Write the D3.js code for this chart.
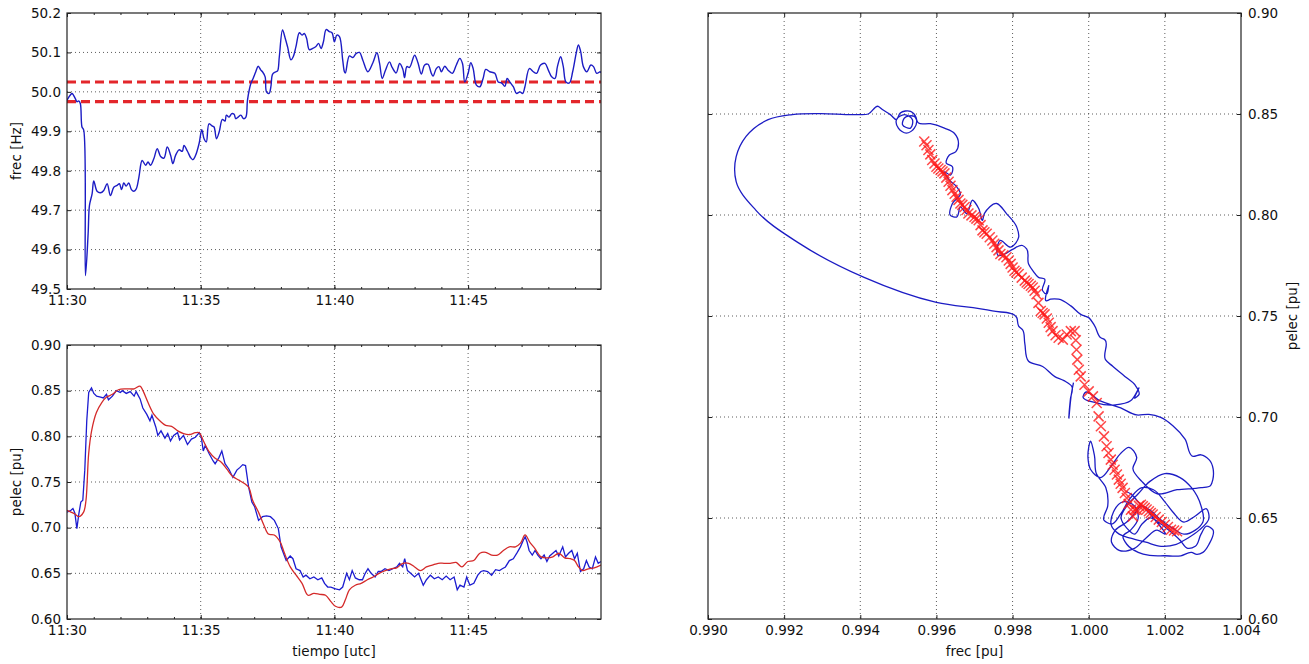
<!DOCTYPE html>
<html><head><meta charset="utf-8">
<script src="https://cdnjs.cloudflare.com/ajax/libs/d3/7.8.5/d3.min.js"></script>
<style>body{margin:0;background:#fff}svg text{font-family:"DejaVu Sans",sans-serif;fill:#111}</style>
</head><body><svg id="c" width="1309" height="664"></svg>
<script>
// ---- time series: minutes after 11:30 UTC ----
const freqTime=[0,.125,.19,.31,.375,.44,.5,.56,.625,.69,.79,.84,.94,1.0,1.125,1.25,1.375,1.5,1.625,1.75,1.875,1.96,2.04,2.125,2.21,2.31,2.41,2.5,2.59,2.69,2.81,2.94,3.03,3.125,3.25,3.375,3.5,3.625,3.75,3.875,3.96,4.06,4.19,4.31,4.375,4.5,4.625,4.71,4.81,4.94,5.04,5.125,5.21,5.31,5.44,5.5,5.59,5.69,5.81,5.91,5.96,6.06,6.16,6.25,6.31,6.4,6.5,6.6,6.69,6.75,6.875,6.96,7.06,7.15,7.25,7.31,7.41,7.46,7.56,7.625,7.69,7.81,7.875,7.94,8.06,8.16,8.25,8.375,8.46,8.56,8.69,8.79,8.875,8.96,9.06,9.19,9.31,9.41,9.5,9.59,9.69,9.81,9.91,10.0,10.09,10.19,10.31,10.375,10.41,10.56,10.69,10.81,10.94,11.06,11.25,11.44,11.59,11.69,11.79,11.91,12.06,12.16,12.31,12.44,12.56,12.625,12.71,12.81,13.0,13.125,13.25,13.375,13.5,13.625,13.69,13.81,13.91,14.0,14.125,14.25,14.41,14.56,14.69,14.79,14.875,15.0,15.1,15.19,15.31,15.44,15.56,15.66,15.81,16.0,16.125,16.25,16.375,16.46,16.56,16.69,16.81,16.94,17.04,17.125,17.29,17.44,17.56,17.71,17.875,18.0,18.125,18.25,18.34,18.46,18.56,18.66,18.79,18.91,19.04,19.125,19.21,19.31,19.44,19.59,19.69,19.81,19.94,19.97];
const freqHz=[49.979,49.992,49.996,49.983,49.975,49.977,49.970,49.911,49.903,49.534,49.640,49.712,49.742,49.774,49.748,49.744,49.750,49.767,49.737,49.758,49.763,49.767,49.752,49.769,49.761,49.769,49.752,49.748,49.754,49.784,49.826,49.814,49.822,49.814,49.831,49.856,49.836,49.832,49.860,49.839,49.818,49.839,49.853,49.849,49.864,49.850,49.833,49.828,49.839,49.869,49.904,49.881,49.873,49.919,49.913,49.911,49.881,49.898,49.930,49.926,49.941,49.936,49.945,49.943,49.932,49.936,49.941,49.932,49.936,49.979,50.021,50.034,50.051,50.065,50.055,50.051,50.038,50.000,49.996,50.013,50.045,50.051,50.053,50.089,50.157,50.136,50.114,50.081,50.089,50.114,50.150,50.144,50.148,50.136,50.107,50.110,50.115,50.123,50.110,50.127,50.158,50.153,50.150,50.127,50.144,50.140,50.081,50.051,50.048,50.091,50.087,50.097,50.100,50.081,50.051,50.074,50.099,50.072,50.034,50.055,50.076,50.062,50.048,50.072,50.057,50.036,50.064,50.062,50.093,50.074,50.045,50.068,50.070,50.047,50.040,50.059,50.064,50.051,50.065,50.055,50.047,50.068,50.085,50.072,50.025,50.047,50.074,50.059,50.017,50.013,50.034,50.057,50.051,50.047,50.025,50.023,50.014,50.034,50.025,50.013,49.996,50.000,49.996,50.013,50.059,50.051,50.047,50.068,50.072,50.055,50.038,50.034,50.064,50.089,50.064,50.025,50.023,50.051,50.097,50.119,50.102,50.064,50.051,50.068,50.064,50.047,50.051,50.048];
const freqBand=[50.025,49.975];

const pelecTime=[0,.148,.222,.295,.369,.443,.517,.591,.665,.739,.812,.916,1.004,1.108,1.256,1.359,1.477,1.551,1.699,1.846,1.994,2.068,2.216,2.363,2.511,2.585,2.733,2.836,2.984,3.102,3.176,3.323,3.397,3.516,3.663,3.767,3.870,3.988,4.136,4.210,4.357,4.505,4.653,4.801,4.948,5.022,5.096,5.170,5.318,5.465,5.539,5.687,5.790,5.908,6.056,6.204,6.352,6.470,6.573,6.677,6.795,6.913,7.016,7.164,7.312,7.459,7.607,7.755,7.903,8.006,8.095,8.198,8.346,8.449,8.567,8.715,8.833,8.936,9.084,9.232,9.380,9.527,9.631,9.749,9.867,10.044,10.192,10.310,10.458,10.561,10.665,10.783,10.930,11.049,11.152,11.256,11.374,11.521,11.640,11.743,11.891,12.038,12.186,12.334,12.437,12.555,12.629,12.733,12.851,12.999,13.146,13.323,13.442,13.589,13.737,13.885,14.033,14.180,14.328,14.476,14.594,14.697,14.845,14.948,15.066,15.214,15.362,15.480,15.583,15.731,15.879,16.027,16.174,16.278,16.396,16.544,16.691,16.839,16.957,17.061,17.135,17.208,17.282,17.400,17.504,17.607,17.725,17.843,17.947,18.050,18.168,18.287,18.390,18.538,18.641,18.759,18.877,18.981,19.084,19.202,19.321,19.424,19.527,19.645,19.764,19.867,19.970];
const pelecMeasured=[0.717,0.719,0.721,0.716,0.699,0.715,0.728,0.730,0.763,0.817,0.848,0.853,0.847,0.844,0.843,0.842,0.846,0.840,0.844,0.850,0.848,0.850,0.847,0.849,0.844,0.849,0.841,0.831,0.824,0.817,0.823,0.810,0.801,0.806,0.798,0.803,0.795,0.801,0.804,0.796,0.801,0.791,0.797,0.799,0.804,0.799,0.784,0.790,0.781,0.773,0.770,0.777,0.784,0.770,0.764,0.755,0.763,0.766,0.769,0.768,0.744,0.728,0.723,0.708,0.712,0.713,0.712,0.708,0.699,0.679,0.672,0.664,0.669,0.666,0.655,0.653,0.646,0.648,0.644,0.646,0.643,0.645,0.639,0.635,0.635,0.633,0.632,0.635,0.650,0.643,0.653,0.645,0.643,0.643,0.650,0.655,0.650,0.646,0.652,0.652,0.655,0.653,0.655,0.657,0.661,0.657,0.666,0.653,0.650,0.646,0.650,0.637,0.643,0.648,0.644,0.646,0.643,0.647,0.643,0.646,0.632,0.637,0.635,0.646,0.637,0.639,0.648,0.652,0.653,0.652,0.648,0.654,0.653,0.655,0.657,0.664,0.666,0.673,0.679,0.686,0.690,0.684,0.675,0.670,0.675,0.670,0.666,0.670,0.663,0.669,0.672,0.675,0.669,0.679,0.668,0.672,0.675,0.666,0.672,0.652,0.655,0.664,0.657,0.655,0.668,0.661,0.663];

const refTime=[0,.148,.295,.443,.62,.71,.81,.92,1.1,1.3,1.48,1.7,1.92,2.22,2.51,2.73,2.84,3.03,3.25,3.47,3.69,3.91,4.14,4.36,4.58,4.8,4.95,5.1,5.32,5.54,5.76,5.98,6.2,6.43,6.65,6.8,6.94,7.16,7.36,7.53,7.75,7.98,8.12,8.35,8.57,8.79,9.01,9.23,9.45,9.67,9.87,10.04,10.27,10.41,10.56,10.78,11.0,11.23,11.45,11.67,11.9,12.11,12.33,12.56,12.78,13.0,13.22,13.44,13.66,13.88,14.1,14.33,14.55,14.77,14.99,15.21,15.44,15.66,15.88,16.1,16.32,16.54,16.77,16.96,17.13,17.31,17.5,17.73,17.95,18.17,18.39,18.61,18.83,18.98,19.13,19.28,19.5,19.72,19.97];
const pelecReference=[0.719,0.717,0.715,0.712,0.717,0.730,0.781,0.806,0.826,0.837,0.843,0.846,0.851,0.852,0.852,0.855,0.850,0.837,0.824,0.817,0.812,0.811,0.806,0.803,0.802,0.804,0.804,0.795,0.783,0.776,0.772,0.764,0.756,0.752,0.748,0.744,0.730,0.717,0.703,0.693,0.692,0.684,0.673,0.657,0.648,0.639,0.626,0.628,0.627,0.626,0.619,0.614,0.613,0.621,0.632,0.637,0.639,0.643,0.646,0.650,0.653,0.655,0.656,0.661,0.661,0.657,0.653,0.657,0.659,0.661,0.661,0.661,0.662,0.657,0.663,0.664,0.672,0.673,0.670,0.670,0.675,0.679,0.679,0.683,0.692,0.684,0.677,0.668,0.667,0.668,0.672,0.667,0.666,0.664,0.657,0.653,0.655,0.656,0.659];

// ---- phase plane (frec pu vs pelec pu) ----
const phaseFrec=[0.99960,0.99955,0.99948,0.99952,0.99956,0.99935,0.99911,0.99879,0.99842,0.99832,0.99826,0.99816,0.99811,0.99747,0.99600,0.99410,0.99242,0.99126,0.99074,0.99074,0.99100,0.99158,0.99221,0.99295,0.99390,0.99421,0.99447,0.99458,0.99479,0.99495,0.99505,0.99532,0.99547,0.99542,0.99521,0.99500,0.99495,0.99516,0.99537,0.99532,0.99511,0.99516,0.99542,0.99553,0.99584,0.99621,0.99647,0.99658,0.99651,0.99634,0.99626,0.99642,0.99637,0.99621,0.99634,0.99653,0.99663,0.99642,0.99637,0.99653,0.99663,0.99679,0.99695,0.99711,0.99721,0.99726,0.99758,0.99784,0.99811,0.99816,0.99795,0.99768,0.99763,0.99779,0.99800,0.99826,0.99837,0.99842,0.99855,0.99868,0.99884,0.99879,0.99889,0.99895,0.99889,0.99900,0.99921,0.99953,0.99979,1.00000,1.00016,1.00032,1.00042,1.00044,1.00063,1.00095,1.00121,1.00132,1.00121,1.00132,1.00110,1.00070,1.00020,0.99985,0.99990,1.00030,1.00084,1.00126,1.00158,1.00189,1.00221,1.00253,1.00274,1.00295,1.00316,1.00326,1.00320,1.00295,1.00232,1.00180,1.00140,1.00116,1.00126,1.00105,1.00084,1.00060,1.00030,1.00005,0.99998,1.00005,1.00015,1.00020,1.00045,1.00050,1.00040,1.00060,1.00084,1.00110,1.00140,1.00170,1.00200,1.00221,1.00250,1.00280,1.00310,1.00316,1.00290,1.00260,1.00230,1.00190,1.00150,1.00110,1.00080,1.00060,1.00065,1.00090,1.00120,1.00130,1.00110,1.00090,1.00100,1.00130,1.00160,1.00200,1.00242,1.00270,1.00284,1.00300,1.00316,1.00326,1.00310,1.00295,1.00280,1.00260,1.00240,1.00210,1.00190,1.00160,1.00140,1.00120,1.00100,1.00085,1.00100,1.00130,1.00160,1.00200,1.00240,1.00270,1.00295,1.00300,1.00280,1.00250,1.00220,1.00190,1.00160,1.00140,1.00120,1.00100,1.00070,1.00060,1.00080,1.00120,1.00150,1.00180,1.00200,1.00170,1.00130,1.00110,1.00100];
const phasePelec=[0.717,0.712,0.6995,0.709,0.715,0.718,0.720,0.725,0.7276,0.7366,0.7432,0.745,0.7492,0.7525,0.7567,0.7691,0.7857,0.8023,0.8165,0.8289,0.8389,0.8472,0.8497,0.8502,0.8497,0.8500,0.8538,0.8522,0.8497,0.8472,0.8505,0.8513,0.848,0.843,0.8405,0.843,0.8472,0.8497,0.8472,0.843,0.8447,0.848,0.8488,0.8455,0.8452,0.843,0.8405,0.8355,0.8314,0.8297,0.8256,0.8239,0.8198,0.8214,0.8173,0.814,0.8106,0.8057,0.7998,0.799,0.804,0.8007,0.8073,0.8032,0.7974,0.8007,0.8057,0.8007,0.794,0.789,0.7841,0.7874,0.7799,0.7807,0.7830,0.7849,0.7832,0.7758,0.7720,0.7691,0.7683,0.7625,0.7608,0.765,0.7575,0.7583,0.7583,0.755,0.7508,0.7492,0.745,0.7392,0.7383,0.7284,0.7251,0.7201,0.716,0.7111,0.7094,0.7144,0.7080,0.7060,0.7070,0.7100,0.7120,0.7080,0.7045,0.7010,0.7013,0.6998,0.6957,0.689,0.6805,0.6813,0.6789,0.6690,0.6660,0.6650,0.6640,0.6620,0.6680,0.6745,0.6800,0.6850,0.6820,0.6760,0.6700,0.6740,0.6800,0.6880,0.6810,0.6720,0.6650,0.6560,0.6490,0.6470,0.6520,0.6600,0.6650,0.6640,0.6580,0.6530,0.6480,0.6510,0.6545,0.6500,0.6440,0.6400,0.6370,0.6360,0.6380,0.6400,0.6420,0.6460,0.6530,0.6580,0.6560,0.6500,0.6440,0.6410,0.6370,0.6330,0.6315,0.6313,0.6313,0.6330,0.6320,0.6330,0.6370,0.6442,0.6460,0.6420,0.6360,0.6350,0.6390,0.6440,0.6470,0.6500,0.6470,0.6420,0.6450,0.6500,0.6560,0.6620,0.6680,0.6720,0.6700,0.6650,0.6560,0.6480,0.6440,0.6420,0.6450,0.6490,0.6540,0.6560,0.6520,0.6480,0.6440,0.6380,0.6340,0.6350,0.6400,0.6440,0.6420,0.6500,0.6580,0.6620,0.6630];
const markerFrec=[0.99568,0.99574,0.99579,0.99584,0.99589,0.99595,0.99600,0.99605,0.99611,0.99616,0.99621,0.99626,0.99632,0.99637,0.99642,0.99648,0.99653,0.99658,0.99663,0.99668,0.99674,0.99679,0.99684,0.99692,0.99700,0.99705,0.99711,0.99716,0.99721,0.99726,0.99732,0.99740,0.99747,0.99752,0.99758,0.99763,0.99768,0.99776,0.99784,0.99790,0.99795,0.99800,0.99805,0.99810,0.99816,0.99824,0.99832,0.99837,0.99842,0.99848,0.99853,0.99858,0.99863,0.99868,0.99874,0.99879,0.99884,0.99890,0.99895,0.99900,0.99905,0.99913,0.99921,0.99932,0.99942,0.99953,0.99963,0.99966,0.99968,0.99970,0.99974,0.99979,0.99989,1.00000,1.00011,1.00021,1.00026,1.00032,1.00040,1.00047,1.00052,1.00058,1.00063,1.00068,1.00074,1.00079,1.00084,1.00089,1.00095,1.00100,1.00105,1.00111,1.00116,1.00121,1.00126,1.00132,1.00137,1.00142,1.00147,1.00152,1.00158,1.00163,1.00168,1.00176,1.00184,1.00192,1.00200,1.00208,1.00216,1.00224,1.00232];
const markerPelec=[0.8364,0.8345,0.8322,0.8300,0.8272,0.8255,0.8239,0.8230,0.8223,0.8215,0.8206,0.8185,0.8165,0.8145,0.8123,0.8105,0.8090,0.8075,0.8057,0.8050,0.8040,0.8025,0.8007,0.7998,0.7990,0.7982,0.7974,0.7950,0.7924,0.7915,0.7907,0.7890,0.7874,0.7858,0.7841,0.7825,0.7807,0.7800,0.7791,0.7775,0.7758,0.7740,0.7724,0.7716,0.7708,0.7690,0.7675,0.7666,0.7658,0.7650,0.7641,0.7625,0.7608,0.7565,0.7525,0.7515,0.7508,0.7488,0.7467,0.7445,0.7425,0.7405,0.7392,0.7383,0.7408,0.7425,0.7425,0.7380,0.7333,0.7284,0.7234,0.7201,0.7160,0.7127,0.7102,0.7069,0.7003,0.6954,0.6904,0.6855,0.6822,0.6789,0.6764,0.6739,0.6715,0.6690,0.6670,0.6649,0.6624,0.6599,0.6570,0.6541,0.6508,0.6541,0.6541,0.6560,0.6566,0.6558,0.6550,0.6542,0.6533,0.6525,0.6517,0.6505,0.6492,0.6480,0.6467,0.6455,0.6442,0.6438,0.6434];

// ---- axis ticks ----
const freqTicks=[49.5,49.6,49.7,49.8,49.9,50.0,50.1,50.2];
const pelecTicks=[0.60,0.65,0.70,0.75,0.80,0.85,0.90];
const frecPuTicks=[0.990,0.992,0.994,0.996,0.998,1.000,1.002,1.004];
const timeLabels=["11:30","11:35","11:40","11:45"];

const svg=d3.select("#c");
const T0=Date.UTC(2000,0,1,11,30);
const toDate=m=>new Date(T0+m*60000);
const GRID="#333";
const FS="13.5px";

const A={l:67,r:601,t:13,b:289};
const B={l:67,r:601,t:345,b:619};
const C={l:708,r:1241,t:13,b:619};

const xTime=d3.scaleUtc().domain([toDate(0),toDate(19.97)]).range([A.l,A.r]);
const majorTimes=d3.utcMinute.every(5).range(toDate(0),toDate(19.98));
const minorTimes=d3.utcMinute.every(1).range(toDate(0),toDate(19.98));

function grid(g,P,xs,xv,ys,yv){
  g.selectAll(".gx").data(xv).join("line").attr("x1",d=>xs(d)).attr("x2",d=>xs(d)).attr("y1",P.t).attr("y2",P.b)
   .attr("stroke",GRID).attr("stroke-width",0.8).attr("stroke-dasharray","1,3");
  g.selectAll(".gy").data(yv).join("line").attr("y1",d=>ys(d)).attr("y2",d=>ys(d)).attr("x1",P.l).attr("x2",P.r)
   .attr("stroke",GRID).attr("stroke-width",0.8).attr("stroke-dasharray","1,3");
}
function frame(P){
  svg.append("rect").attr("x",P.l).attr("y",P.t).attr("width",P.r-P.l).attr("height",P.b-P.t)
    .attr("fill","none").attr("stroke","#222").attr("stroke-width",1.2);
}
function axes(P,xs,ys,xTicks,xFmt,yTicks,yFmt,yRightLabels,minor){
  const ax=(gen,tr)=>{const g=svg.append("g").attr("transform",tr).call(gen);g.select(".domain").remove();
    g.selectAll("text").style("font-size",FS).style("font-family","DejaVu Sans, sans-serif").attr("fill","#111");
    g.selectAll("line").attr("stroke","#222");return g;};
  ax(d3.axisBottom(xs).tickValues(xTicks).tickFormat(xFmt).tickSizeInner(-4).tickSizeOuter(0).tickPadding(6),`translate(0,${P.b})`);
  ax(d3.axisTop(xs).tickValues(xTicks).tickFormat("").tickSizeInner(-4).tickSizeOuter(0),`translate(0,${P.t})`);
  if(minor){
    ax(d3.axisBottom(xs).tickValues(minor).tickFormat("").tickSizeInner(-2).tickSizeOuter(0),`translate(0,${P.b})`);
    ax(d3.axisTop(xs).tickValues(minor).tickFormat("").tickSizeInner(-2).tickSizeOuter(0),`translate(0,${P.t})`);
  }
  ax(d3.axisLeft(ys).tickValues(yTicks).tickFormat(yRightLabels?"":yFmt).tickSizeInner(-4).tickSizeOuter(0).tickPadding(6),`translate(${P.l},0)`);
  ax(d3.axisRight(ys).tickValues(yTicks).tickFormat(yRightLabels?yFmt:"").tickSizeInner(-4).tickSizeOuter(0).tickPadding(7),`translate(${P.r},0)`);
}

// ---- Panel A: frequency ----
const yA=d3.scaleLinear().domain([49.5,50.2]).range([A.b,A.t]);
grid(svg.append("g"),A,xTime,majorTimes.slice(1),yA,freqTicks.slice(1,-1));
svg.append("clipPath").attr("id","cA").append("rect").attr("x",A.l).attr("y",A.t).attr("width",A.r-A.l).attr("height",A.b-A.t);
const gA=svg.append("g").attr("clip-path","url(#cA)");
gA.selectAll(".band").data(freqBand).join("line").attr("x1",A.l).attr("x2",A.r).attr("y1",d=>yA(d)).attr("y2",d=>yA(d))
  .attr("stroke","#e3262b").attr("stroke-width",3.2).attr("stroke-dasharray","9,5");
gA.append("path").datum(freqTime.map((t,i)=>[t,freqHz[i]]))
  .attr("d",d3.line().x(d=>xTime(toDate(d[0]))).y(d=>yA(d[1])).curve(d3.curveCatmullRom))
  .attr("fill","none").attr("stroke","#1c1cc4").attr("stroke-width",1.4);
frame(A);
axes(A,xTime,yA,majorTimes,(d,i)=>timeLabels[i],freqTicks,d3.format(".1f"),false,minorTimes);
svg.append("text").attr("transform",`translate(21,${(A.t+A.b)/2}) rotate(-90)`).attr("text-anchor","middle").style("font-size",FS).text("frec [Hz]");

// ---- Panel B: electrical power ----
const xTimeB=xTime.copy().range([B.l,B.r]);
const yB=d3.scaleLinear().domain([0.60,0.90]).range([B.b,B.t]);
grid(svg.append("g"),B,xTimeB,majorTimes.slice(1),yB,pelecTicks.slice(1,-1));
svg.append("clipPath").attr("id","cB").append("rect").attr("x",B.l).attr("y",B.t).attr("width",B.r-B.l).attr("height",B.b-B.t);
const gB=svg.append("g").attr("clip-path","url(#cB)");
const lineB=d3.line().x(d=>xTimeB(toDate(d[0]))).y(d=>yB(d[1]));
gB.append("path").datum(pelecTime.map((t,i)=>[t,pelecMeasured[i]])).attr("d",lineB)
  .attr("fill","none").attr("stroke","#1c1cd0").attr("stroke-width",1.3);
gB.append("path").datum(refTime.map((t,i)=>[t,pelecReference[i]])).attr("d",lineB.curve(d3.curveCatmullRom))
  .attr("fill","none").attr("stroke","#d42a2a").attr("stroke-width",1.3);
frame(B);
axes(B,xTimeB,yB,majorTimes,(d,i)=>timeLabels[i],pelecTicks,d3.format(".2f"),false,minorTimes);
svg.append("text").attr("transform",`translate(21,${(B.t+B.b)/2}) rotate(-90)`).attr("text-anchor","middle").style("font-size",FS).text("pelec [pu]");
svg.append("text").attr("x",(B.l+B.r)/2).attr("y",656).attr("text-anchor","middle").style("font-size",FS).text("tiempo [utc]");

// ---- Panel C: phase plane ----
const xC=d3.scaleLinear().domain([0.990,1.004]).range([C.l,C.r]);
const yC=d3.scaleLinear().domain([0.60,0.90]).range([C.b,C.t]);
grid(svg.append("g"),C,xC,frecPuTicks.slice(1,-1),yC,pelecTicks.slice(1,-1));
svg.append("clipPath").attr("id","cC").append("rect").attr("x",C.l).attr("y",C.t).attr("width",C.r-C.l).attr("height",C.b-C.t);
const gC=svg.append("g").attr("clip-path","url(#cC)");
gC.append("path").datum(phaseFrec.map((f,i)=>[f,phasePelec[i]]))
  .attr("d",d3.line().x(d=>xC(d[0])).y(d=>yC(d[1])).curve(d3.curveCatmullRom.alpha(1)))
  .attr("fill","none").attr("stroke","#1c1cc4").attr("stroke-width",1.3);
gC.selectAll(".mk").data(markerFrec.map((f,i)=>[f,markerPelec[i]])).join("path")
  .attr("d",d=>{const x=xC(d[0]),y=yC(d[1]),s=5;return `M${x-s},${y-s}L${x+s},${y+s}M${x-s},${y+s}L${x+s},${y-s}`;})
  .attr("stroke","#ff1a1a").attr("stroke-opacity",0.8).attr("stroke-width",1.5).attr("fill","none");
frame(C);
axes(C,xC,yC,frecPuTicks,d3.format(".3f"),pelecTicks,d3.format(".2f"),true,null);
svg.append("text").attr("x",(C.l+C.r)/2).attr("y",656).attr("text-anchor","middle").style("font-size",FS).text("frec [pu]");
svg.append("text").attr("transform",`translate(1297,${(C.t+C.b)/2}) rotate(-90)`).attr("text-anchor","middle").style("font-size",FS).text("pelec [pu]");
</script></body></html>
